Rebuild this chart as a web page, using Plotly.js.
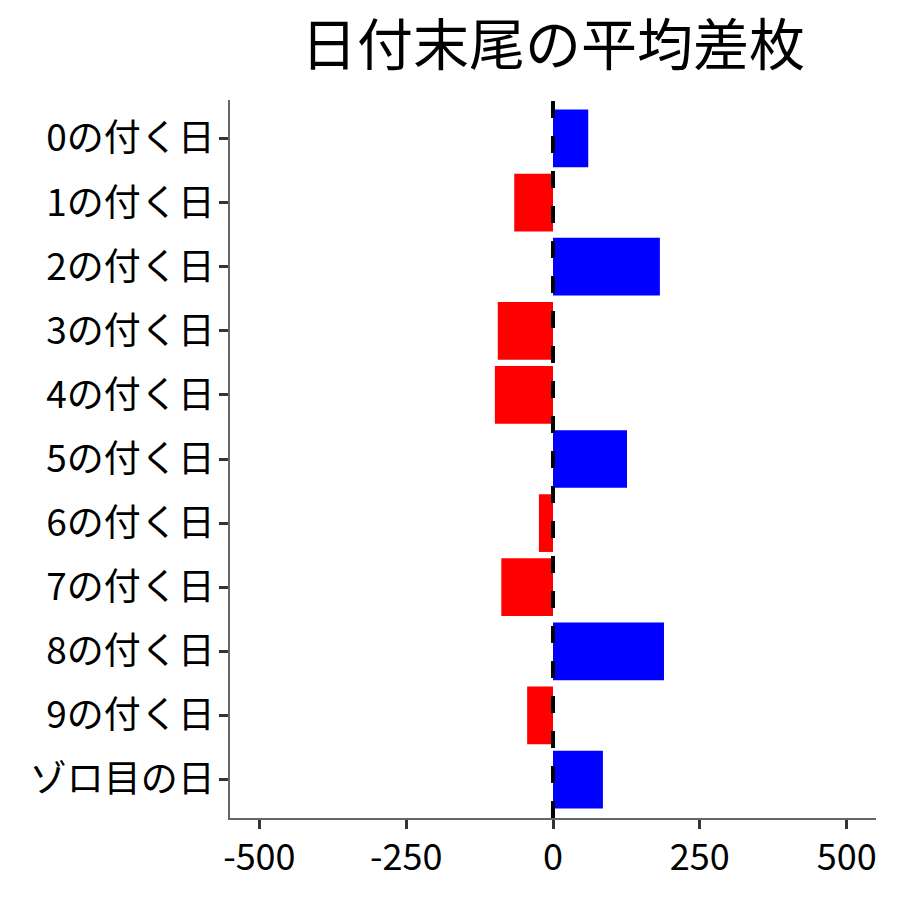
<!DOCTYPE html>
<html>
<head>
<meta charset="utf-8">
<script src="https://cdn.plot.ly/plotly-3.0.1.min.js"></script>
<style>
  html, body { margin: 0; padding: 0; background: #fff; }
  #chart { width: 900px; height: 900px; }
</style>
</head>
<body>
<div id="chart"></div>
<script>
const categories = ['0の付く日', '1の付く日', '2の付く日', '3の付く日', '4の付く日',
    '5の付く日', '6の付く日', '7の付く日', '8の付く日', '9の付く日', 'ゾロ目の日'];
const avgDiff = [60, -66, 182, -94, -99, 126, -24, -88, 189, -44, 85];
const tickVals = [-500, -250, 0, 250, 500];

const FONT = "'Noto Sans CJK JP', 'Noto Sans', sans-serif";
const barColors = avgDiff.map(v => v >= 0 ? '#0000ff' : '#ff0000');

Plotly.newPlot('chart', [{
    type: 'bar',
    orientation: 'h',
    x: avgDiff,
    y: categories,
    marker: { color: barColors, line: { width: 0 } },
    hovertemplate: '%{y}: %{x}<extra></extra>'
}], {
    width: 900,
    height: 900,
    paper_bgcolor: '#fff',
    plot_bgcolor: '#fff',
    font: { family: FONT, color: '#000', size: 37 },
    title: {
        text: '日付末尾の平均差枚',
        font: { family: FONT, size: 56, color: '#000' },
        x: 0.5, xref: 'paper', y: 0.95, yref: 'container', yanchor: 'middle'
    },
    margin: { t: 100, l: 230, r: 24, b: 82 },
    bargap: 0.1,
    showlegend: false,
    xaxis: {
        range: [-550, 550],
        tickvals: tickVals,
        ticktext: tickVals.map(String),
        showgrid: false,
        zeroline: false,
        showline: true,
        linecolor: '#666',
        linewidth: 1.5,
        ticks: 'outside',
        ticklen: 9,
        tickwidth: 2.5,
        tickcolor: '#333',
        ticklabelstandoff: -2,
        tickfont: { family: FONT, size: 36, color: '#000' }
    },
    yaxis: {
        range: [categories.length - 0.4, -0.6],
        showgrid: false,
        zeroline: false,
        showline: true,
        linecolor: '#666',
        linewidth: 1.5,
        ticks: 'outside',
        ticklen: 9,
        tickwidth: 2.5,
        tickcolor: '#333',
        ticklabelstandoff: -3,
        tickfont: { family: FONT, size: 37, color: '#000' }
    },
    shapes: [{
        type: 'line',
        xref: 'x', yref: 'paper',
        x0: 0, x1: 0, y0: 0, y1: 1,
        line: { color: '#000', width: 4, dash: '17px,18px' },
        layer: 'above'
    }]
}, { displayModeBar: false });
</script>
</body>
</html>
